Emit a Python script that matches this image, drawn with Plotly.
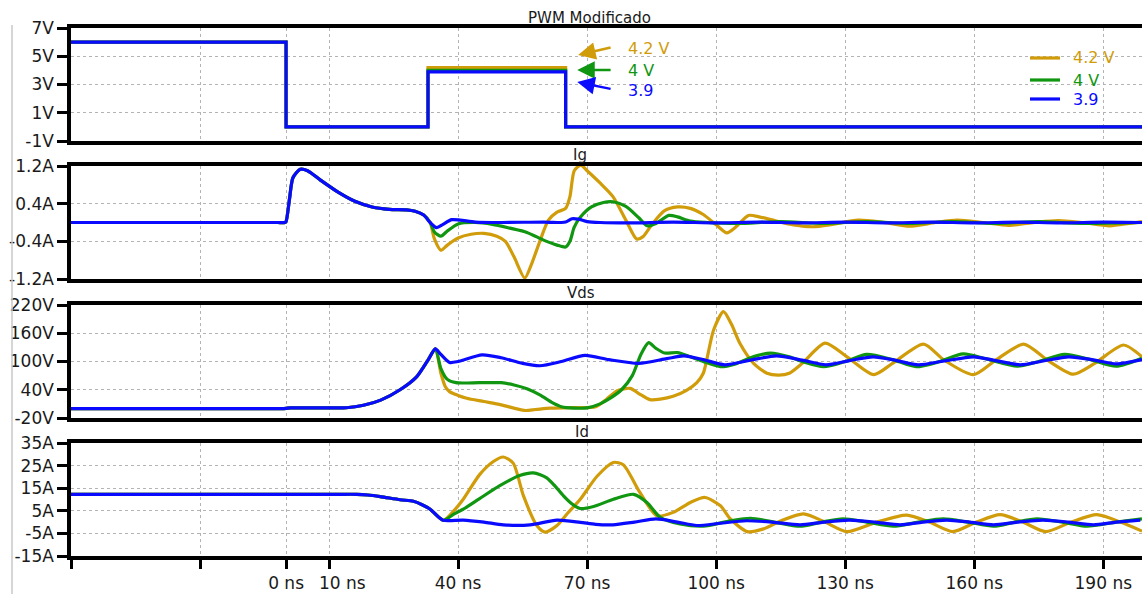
import plotly.graph_objects as go

# ---------------- data ----------------
series_names = ["4.2 V", "4 V", "3.9"]
colors = ["#D19C0A", "#109610", "#0A0AFF"]

# PWM gate drive (ns, V)
pwm_t = [-50, 0, 0, 33, 33, 65, 65, 199]
pwm_42 = [6, 6, 0, 0, 4.2, 4.2, 0, 0]
pwm_40 = [6, 6, 0, 0, 4.0, 4.0, 0, 0]
pwm_39 = [6, 6, 0, 0, 3.9, 3.9, 0, 0]

# Ig (ns, A)
ig_common_t = [-50, -30, -10, -2, -0.3, 0, 0.8, 1.6, 3.3, 5, 8, 12, 16, 20, 24, 28, 30, 32]
ig_common_v = [0, 0, 0, 0, 0, 0.02, 0.5, 0.95, 1.13, 1.1, 0.9, 0.65, 0.45, 0.33, 0.28, 0.27, 0.24, 0.16]

ig39_t = [33.5, 35, 36.5, 38.5, 40.5, 44, 50, 60, 64, 65, 66.5, 68, 70, 73, 80, 90, 100, 110, 120, 130, 140, 150, 160, 170, 180, 190, 199]
ig39_v = [0.0, -0.11, -0.04, 0.06, 0.05, 0.01, 0, 0.01, 0.0, 0.01, 0.08, 0.07, 0.02, 0, -0.01, 0.01, -0.01, 0.01, -0.01, 0.01, -0.01, 0.01, -0.01, 0.01, -0.01, 0.01, 0]

ig40_t = [33.5, 34.5, 36, 37.5, 40, 44, 48, 52, 56, 60, 63, 65, 66, 67, 68.5, 71, 74, 76, 79, 82, 84, 86, 89, 91, 94, 98, 105, 115, 125, 135, 145, 155, 165, 175, 185, 199]
ig40_v = [0.0, -0.2, -0.29, -0.18, -0.03, 0.0, -0.04, -0.12, -0.21, -0.38, -0.48, -0.52, -0.4, -0.1, 0.12, 0.33, 0.43, 0.44, 0.34, 0.1, -0.07, -0.02, 0.15, 0.12, 0.03, 0.0, -0.02, 0.02, -0.02, 0.02, -0.02, 0.02, -0.02, 0.02, -0.02, 0.0]

ig42_t = [33.5, 34.5, 36, 37.5, 40, 43, 46, 49, 51, 53, 55.5, 57, 59, 61, 63, 65, 66, 67, 68.5, 70, 73, 76, 79, 81.5, 83, 85, 88, 91, 94, 97, 100, 102.5, 104.5, 107.5, 110, 114, 118, 122.5, 127, 133, 139, 145, 151, 156, 162, 168, 174, 179.5, 185, 191.5, 196, 199]
ig42_v = [0.0, -0.35, -0.59, -0.48, -0.33, -0.25, -0.23, -0.29, -0.4, -0.73, -1.18, -0.9, -0.4, 0.05, 0.22, 0.3, 0.55, 1.1, 1.22, 1.1, 0.84, 0.55, 0.05, -0.35, -0.3, -0.05, 0.25, 0.33, 0.3, 0.17, -0.05, -0.22, -0.1, 0.15, 0.12, 0.03, -0.05, -0.09, -0.04, 0.05, 0.0, -0.08, 0.0, 0.05, 0.0, -0.06, 0.0, 0.04, 0.0, -0.07, -0.02, 0.02]

# Vds (ns, V)
vds_common_t = [-50, -30, -10, -1, 0, 1, 5, 10, 14, 18, 22, 26.5, 30.4, 33, 34.7]
vds_common_v = [0, 0, 0, 0, 0.5, 1.5, 1.5, 1.5, 1.8, 7, 18, 40, 68, 103, 127]

vds39_t = [36, 38, 40, 45.6, 50, 55, 59, 64, 69.5, 75, 82, 88.5, 92.5, 97, 102, 108, 114, 120, 125.5, 131, 136.5, 142, 147, 153, 159.8, 165, 170.7, 176, 182, 188, 193, 199]
vds39_v = [115, 98, 100, 114, 108, 96, 91, 100, 113, 104, 96, 106, 112, 104, 93, 103, 112, 103, 93, 102, 110, 102, 93, 101, 110, 102, 93, 101, 110, 103, 95, 104]

vds40_t = [36, 37.5, 39.5, 45, 50, 53, 56, 59, 62, 64, 67, 70, 73, 75, 78, 80.5, 82.5, 84.3, 86, 88, 91, 94, 97, 101, 104.5, 108, 112.6, 117, 120, 125, 130, 135, 141, 146.5, 152, 157.4, 163, 170, 175, 181, 187, 193, 199]
vds40_v = [85, 62, 55, 55, 55, 50, 42, 29, 12, 4, 1, 1.5, 10, 20, 40, 70, 115, 140, 128, 118, 119, 110, 100, 89, 95, 108, 118, 110, 100, 89, 100, 115, 104, 89, 100, 116, 105, 90, 100, 115, 104, 90, 107]

vds42_t = [36, 37, 38, 40, 42, 46, 50, 55.4, 58, 61.4, 66, 72, 74.5, 77, 80, 82, 84.6, 87, 90, 93, 95.5, 97, 99.4, 101.7, 103.5, 105.6, 108.7, 111.8, 114.5, 117, 120, 125.3, 130.4, 136.6, 141, 148.2, 153, 159.8, 165, 171.5, 177, 183, 188, 194.7, 199]
vds42_v = [75, 47, 36, 28, 22, 15, 8, -4, -2, 1, 2, 4, 20, 38, 43, 32, 19, 20, 26, 38, 55, 75, 167, 206, 180, 137, 96, 75, 71, 75, 96, 139, 110, 72, 96, 137, 103, 72, 103, 137, 103, 73, 96, 135, 110]

# Id (ns, A)
id_common_t = [-50, -30, -10, 5, 12, 16.4, 19, 21.9, 26.5, 29.6, 31.5, 33.5, 35, 36.6]
id_common_v = [12.3, 12.3, 12.3, 12.3, 12.3, 12.3, 12.0, 11.3, 9.9, 9.2, 7.8, 5.7, 3.0, 0.8]

id39_t = [41.2, 46, 50.5, 56.7, 63, 68.4, 72, 76, 81, 86, 91, 95.5, 101, 107, 113, 119.5, 125, 131, 137, 142.8, 148, 153.6, 159, 164.5, 170, 176, 182, 187.7, 193, 198.6]
id39_v = [0.9, 0, -1.2, -1.2, 0.9, -0.1, -1, -1.2, 0, 1.4, 0, -1.5, -0.5, 0.6, 0, -1.2, 0, 0.9, 0, -1.2, 0, 0.9, 0, -1.2, 0, 0.9, 0, -1.2, 0, 0.9]

id40_t = [39, 41.2, 45, 49.6, 54.3, 57.5, 60.6, 62.5, 64.5, 66.5, 68.4, 71.5, 76.1, 80.8, 83.9, 87, 91.6, 97, 103.3, 108, 113.5, 119.5, 124.5, 129.5, 135, 141.2, 147, 152.8, 158.5, 164.5, 169.5, 174.6, 180.5, 186.2, 193, 199]
id40_v = [3.5, 5.7, 10.4, 16, 20.6, 21.8, 19.6, 16, 11.6, 8, 6, 6.9, 10.1, 12.3, 8.7, 2.1, -0.8, -1.8, 0.6, 1.7, 0, -1.8, 0, 1.4, 0, -1.8, 0, 1.4, 0, -1.8, 0, 1.4, 0, -1.8, 0, 1.4]

id42_t = [39, 41.2, 45, 48.2, 50.5, 52.8, 55.2, 58.3, 60.2, 63, 65.5, 68.4, 72.3, 76.1, 78.4, 82.3, 86.2, 90, 94, 97.4, 101, 103.3, 107.2, 111, 115, 120.3, 125.3, 130.4, 137.3, 144.3, 149.6, 155, 160.5, 166, 171.3, 176.6, 182.5, 188.5, 194, 199]
id42_v = [5, 10.1, 21, 26.8, 28.8, 26.1, 11.6, -1.5, -4.4, -1.5, 4, 10.1, 20.3, 26.4, 25.4, 13, 2.8, 4.3, 8.7, 10.9, 7.2, 1.4, -4.2, -3, 0.5, 3.6, 0, -4.2, 0, 3.1, 0, -4.2, 0, 3.3, 0, -4.2, 0, 3.3, 0, -4.0]

# tick labels
x_tickvals = [-50, -20, 0, 10, 40, 70, 100, 130, 160, 190]
x_ticktext = ["", "", "0 ns", "", "40 ns", "70 ns", "100 ns", "130 ns", "160 ns", "190 ns"]
x_offset_label = "10 ns"   # drawn slightly right of its tick, as in the original
pwm_ticks = [-1, 1, 3, 5, 7]
pwm_ticktext = ["-1V", "1V", "3V", "5V", "7V"]
ig_ticks = [-1.2, -0.4, 0.4, 1.2]
ig_ticktext = ["-1.2A", "-0.4A", "0.4A", "1.2A"]
vds_ticks = [-20, 40, 100, 160, 220]
vds_ticktext = ["-20V", "40V", "100V", "160V", "220V"]
id_ticks = [-15, -5, 5, 15, 25, 35]
id_ticktext = ["-15A", "-5A", "5A", "15A", "25A", "35A"]
panel_titles = ["PWM Modificado", "Ig", "Vds", "Id"]

# ---------------- figure ----------------
W, H = 1142, 594
ML, MR, MT, MB = 71, 0, 28, 38
PH = H - MT - MB
PW = W - ML - MR

def py(pix):  # pixel y -> paper y
    return (H - MB - pix) / PH

def px(pix):
    return (pix - ML) / PW

panels_px = [(28, 141), (166, 279), (305, 418), (443, 556)]
domains = [[py(b), py(t)] for (t, b) in panels_px]

fig = go.Figure()
LW = 3.2

pwm_vals = [pwm_42, pwm_40, pwm_39]
for name, col, v in zip(series_names, colors, pwm_vals):
    fig.add_trace(go.Scatter(x=pwm_t, y=v, mode="lines", line=dict(color=col, width=LW),
                             name=name, xaxis="x", yaxis="y", showlegend=False))

def add_panel(common_t, common_v, lists, ax, ay):
    for (tt, vv), col in zip(lists, colors):
        fig.add_trace(go.Scatter(x=common_t + tt, y=common_v + vv, mode="lines",
                                 line=dict(color=col, width=LW, shape="spline", smoothing=0.7),
                                 xaxis=ax, yaxis=ay, showlegend=False, hoverinfo="skip"))

add_panel(ig_common_t, ig_common_v, [(ig42_t, ig42_v), (ig40_t, ig40_v), (ig39_t, ig39_v)], "x2", "y2")
add_panel(vds_common_t, vds_common_v, [(vds42_t, vds42_v), (vds40_t, vds40_v), (vds39_t, vds39_v)], "x3", "y3")
add_panel(id_common_t, id_common_v, [(id42_t, id42_v), (id40_t, id40_v), (id39_t, id39_v)], "x4", "y4")

font_main = "DejaVu Sans"
grid = dict(showgrid=True, gridcolor="#b4b4b4", griddash="dot", gridwidth=1)
xbase = dict(range=[-50, 199], tickvals=x_tickvals, showline=True, linecolor="black",
             linewidth=3.5, mirror=True, zeroline=False, automargin=False, tickangle=0, **grid)
ybase = dict(showline=True, linecolor="black", linewidth=3.5, zeroline=False, ticks="outside",
             ticklen=10, tickwidth=3, tickcolor="black", automargin=False,
             tickfont=dict(family=font_main, size=17, color="#1a1a1a"), **grid)

yinfo = [([-1, 7], pwm_ticks, pwm_ticktext), ([-1.2, 1.2], ig_ticks, ig_ticktext),
         ([-20, 220], vds_ticks, vds_ticktext), ([-15, 35], id_ticks, id_ticktext)]

layout = dict(width=W, height=H, margin=dict(l=ML, r=MR, t=MT, b=MB),
              paper_bgcolor="white", plot_bgcolor="white", template="none", showlegend=False,
              font=dict(family=font_main, size=16, color="#1a1a1a"))
for i in range(4):
    sx = "" if i == 0 else str(i + 1)
    xa = dict(xbase)
    xa["anchor"] = "y" + sx
    if i < 3:
        xa.update(showticklabels=False, ticks="")
    else:
        xa.update(ticktext=x_ticktext, ticks="outside", ticklen=9, tickwidth=3, tickcolor="black",
                  tickfont=dict(family=font_main, size=17, color="#1a1a1a"))
    if i > 0:
        xa["matches"] = "x"
    ya = dict(ybase)
    ya.update(domain=domains[i], range=yinfo[i][0], tickvals=yinfo[i][1], ticktext=yinfo[i][2],
              anchor="x" + sx)
    layout["xaxis" + sx] = xa
    layout["yaxis" + sx] = ya
fig.update_layout(**layout)

# the "10 ns" tick label sits a little right of its tick
fig.add_annotation(x=10, y=py(582.5), xref="x4", yref="paper", xshift=13, text=x_offset_label,
                   showarrow=False, xanchor="center", yanchor="middle",
                   font=dict(family=font_main, size=17, color="#1a1a1a"))

# panel titles
title_pos = [(589, 18), (580, 155), (581, 293), (582, 432)]
for t, (xp, yp) in zip(panel_titles, title_pos):
    fig.add_annotation(text=t, x=px(xp), y=py(yp), xref="paper", yref="paper", showarrow=False,
                       font=dict(family=font_main, size=15, color="#1a1a1a"), xanchor="center", yanchor="middle")

# arrows + labels in the PWM panel
arrows = [((67.9, 5.09), (75.8, 5.65), (79.1, 5.58)),
          ((67.7, 4.02), (75.8, 4.02), (79.1, 4.02)),
          ((67.7, 3.17), (75.8, 2.67), (79.1, 2.6))]
for (head, tail, lab), col, name in zip(arrows, colors, series_names):
    fig.add_annotation(x=head[0], y=head[1], ax=tail[0], ay=tail[1], xref="x", yref="y",
                       axref="x", ayref="y", text="", showarrow=True, arrowhead=2, arrowsize=1.4,
                       arrowwidth=2.5, arrowcolor=col, standoff=0)
    fig.add_annotation(x=lab[0], y=lab[1], xref="x", yref="y", text=name, showarrow=False,
                       xanchor="left", yanchor="middle", font=dict(family=font_main, size=16, color=col))

# legend (top right of PWM panel)
legend_rows = [58, 80, 99]
for yp, col, name in zip(legend_rows, colors, series_names):
    fig.add_shape(type="line", xref="paper", yref="paper", x0=px(1030), x1=px(1060),
                  y0=py(yp), y1=py(yp), line=dict(color=col, width=LW))
    fig.add_annotation(x=px(1071), y=py(yp), xref="paper", yref="paper", text=name, showarrow=False,
                       xanchor="left", yanchor="middle", font=dict(family=font_main, size=16, color=col))

# faint left border line
fig.add_shape(type="line", xref="paper", yref="paper", x0=px(12), x1=px(12), y0=py(594), y1=py(25),
              line=dict(color="#c8c8c8", width=1.5))

fig.write_html("out.html", config={"displayModeBar": False},
               post_script="document.body.style.margin='0';document.body.style.overflow='hidden';")
